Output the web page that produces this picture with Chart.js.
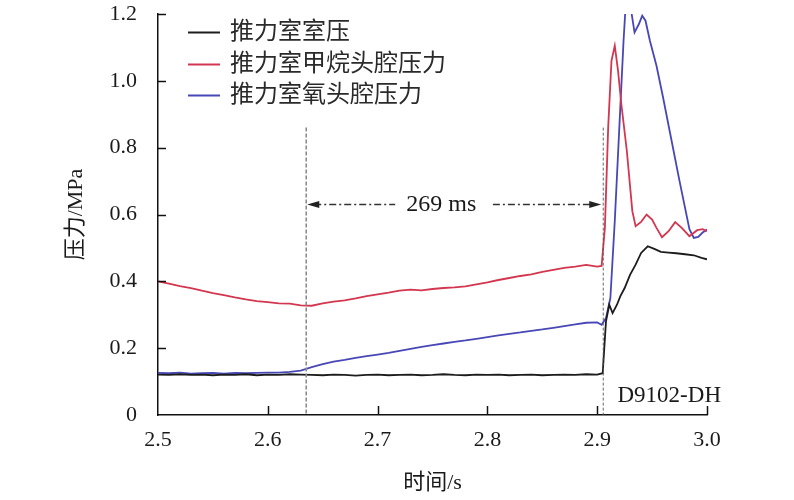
<!DOCTYPE html>
<html><head><meta charset="utf-8">
<script src="https://cdn.jsdelivr.net/npm/chart.js@4.4.1/dist/chart.umd.min.js"></script>
<style>html,body{margin:0;padding:0;background:#fff}</style>
</head><body>
<canvas id="c" width="794" height="500"></canvas>
<script>
const seriesNames = ['推力室室压', '推力室甲烷头腔压力', '推力室氧头腔压力'];
const seriesColors = ['#1c1c1c', '#d3364f', '#4747b6'];
const xTickValues = [2.5, 2.6, 2.7, 2.8, 2.9, 3.0];
const xTickLabels = ['2.5', '2.6', '2.7', '2.8', '2.9', '3.0'];
const yTickValues = [0, 0.2, 0.4, 0.6, 0.8, 1.0, 1.2];
const yTickLabels = ['0', '0.2', '0.4', '0.6', '0.8', '1.0', '1.2'];

const blackTime = [2.50,2.51,2.52,2.53,2.54,2.55,2.56,2.57,2.58,2.59,2.60,2.61,2.62,2.63,2.64,2.65,2.66,2.67,2.68,2.69,2.70,2.71,2.72,2.73,2.74,2.75,2.76,2.77,2.78,2.79,2.80,2.81,2.82,2.83,2.84,2.85,2.86,2.87,2.88,2.89,2.90,
  2.905,2.908,2.911,2.914,2.918,2.921,2.925,2.930,2.935,2.940,2.946,2.952,2.958,2.965,2.972,2.980,2.988,2.995,3.000];
const blackPressure = [0.121,0.120,0.122,0.120,0.121,0.119,0.121,0.120,0.122,0.119,0.121,0.120,0.122,0.121,0.120,0.119,0.121,0.120,0.118,0.120,0.121,0.119,0.120,0.121,0.119,0.120,0.122,0.120,0.119,0.121,0.120,0.121,0.119,0.120,0.121,0.119,0.120,0.121,0.120,0.122,0.121,
  0.125,0.280,0.330,0.305,0.330,0.355,0.380,0.420,0.450,0.485,0.505,0.497,0.488,0.486,0.484,0.481,0.478,0.470,0.466];

const redTime = [2.50,2.51,2.52,2.53,2.54,2.55,2.56,2.57,2.58,2.59,2.60,2.61,2.62,2.63,2.64,2.65,2.66,2.67,2.68,2.69,2.70,2.71,2.72,2.73,2.74,2.75,2.76,2.77,2.78,2.79,2.80,2.81,2.82,2.83,2.84,2.85,2.86,2.87,2.88,2.89,2.90,
  2.904,2.907,2.910,2.913,2.916,2.919,2.922,2.927,2.932,2.935,2.940,2.945,2.950,2.954,2.959,2.965,2.971,2.977,2.984,2.991,2.996,3.000];
const redPressure = [0.400,0.393,0.386,0.380,0.372,0.365,0.359,0.352,0.346,0.341,0.338,0.334,0.333,0.328,0.327,0.334,0.339,0.343,0.349,0.356,0.361,0.366,0.372,0.375,0.373,0.377,0.380,0.382,0.385,0.391,0.397,0.404,0.410,0.416,0.421,0.428,0.434,0.440,0.444,0.449,0.444,
  0.446,0.560,0.860,1.060,1.105,1.030,0.930,0.790,0.610,0.565,0.578,0.600,0.585,0.560,0.532,0.550,0.577,0.560,0.535,0.553,0.556,0.550];

const blueTime = [2.50,2.51,2.52,2.53,2.54,2.55,2.56,2.57,2.58,2.59,2.60,2.61,2.62,2.63,2.64,2.65,2.66,2.67,2.68,2.69,2.70,2.71,2.72,2.73,2.74,2.75,2.76,2.77,2.78,2.79,2.80,2.81,2.82,2.83,2.84,2.85,2.86,2.87,2.88,2.89,2.90,
  2.904,2.908,2.912,2.916,2.920,2.924,2.926,2.930,2.934,2.938,2.941,2.944,2.948,2.954,2.960,2.966,2.975,2.984,2.988,2.992,2.996,3.000];
const bluePressure = [0.126,0.125,0.127,0.124,0.125,0.126,0.124,0.126,0.125,0.126,0.127,0.127,0.129,0.133,0.143,0.152,0.160,0.165,0.171,0.176,0.181,0.186,0.192,0.198,0.204,0.209,0.214,0.219,0.223,0.228,0.233,0.238,0.243,0.247,0.252,0.256,0.261,0.266,0.271,0.276,0.277,
  0.270,0.290,0.350,0.580,0.850,1.120,1.230,1.230,1.145,1.170,1.195,1.180,1.120,1.045,0.950,0.850,0.700,0.556,0.530,0.533,0.546,0.555];

const markerTimes = [2.635, 2.9055];
const markerTop = 0.86;
const intervalLevel = 0.63;
const intervalLabel = '269 ms';
const intervalLabelTime = 2.758;
const intervalGap = [2.716, 2.805];
const testLabel = 'D9102-DH';
const testLabelPos = [2.9185, 0.04];

const serif = '"Liberation Serif", "Noto Sans CJK SC", serif';
Chart.defaults.font.family = serif;
Chart.defaults.color = '#1a1a1a';

function pts(t, v) { return t.map((x, i) => ({x: x, y: v[i]})); }

const overlay = {
  id: 'overlay',
  afterDatasetsDraw(chart) {
    const {ctx, chartArea: a, scales: {x, y}} = chart;
    ctx.save();
    ctx.strokeStyle = '#111'; ctx.lineWidth = 1.5; ctx.setLineDash([]);
    yTickValues.slice(1).forEach(v => {
      const py = Math.round(y.getPixelForValue(v)) + 0.5;
      ctx.beginPath(); ctx.moveTo(a.left, py); ctx.lineTo(a.left + 8, py); ctx.stroke();
    });
    xTickValues.slice(1).forEach(v => {
      const px = Math.round(x.getPixelForValue(v)) + 0.5;
      ctx.beginPath(); ctx.moveTo(px, a.bottom); ctx.lineTo(px, a.bottom - 9); ctx.stroke();
    });
    const topY = y.getPixelForValue(markerTop);
    const mx = markerTimes.map(t => x.getPixelForValue(t));
    ctx.strokeStyle = '#8c8c8c'; ctx.lineWidth = 1.6; ctx.setLineDash([4, 2]);
    ctx.beginPath(); ctx.moveTo(mx[0], topY); ctx.lineTo(mx[0], a.bottom); ctx.stroke();
    ctx.strokeStyle = '#555'; ctx.lineWidth = 0.9; ctx.setLineDash([3, 2]);
    ctx.beginPath(); ctx.moveTo(mx[1], topY); ctx.lineTo(mx[1], a.bottom); ctx.stroke();
    const ay = Math.round(y.getPixelForValue(intervalLevel)) + 0.5;
    const g0 = x.getPixelForValue(intervalGap[0]), g1 = x.getPixelForValue(intervalGap[1]);
    ctx.strokeStyle = '#333'; ctx.lineWidth = 1.3; ctx.setLineDash([7, 3, 2, 3]);
    ctx.beginPath(); ctx.moveTo(mx[0] + 8, ay); ctx.lineTo(g0, ay); ctx.stroke();
    ctx.beginPath(); ctx.moveTo(g1, ay); ctx.lineTo(mx[1] - 8, ay); ctx.stroke();
    ctx.setLineDash([]); ctx.fillStyle = '#222';
    ctx.beginPath(); ctx.moveTo(mx[0] + 1, ay); ctx.lineTo(mx[0] + 13, ay - 3.5); ctx.lineTo(mx[0] + 13, ay + 3.5); ctx.closePath(); ctx.fill();
    ctx.beginPath(); ctx.moveTo(mx[1] - 2, ay); ctx.lineTo(mx[1] - 14, ay - 3.5); ctx.lineTo(mx[1] - 14, ay + 3.5); ctx.closePath(); ctx.fill();
    ctx.fillStyle = '#1a1a1a';
    ctx.font = '24px ' + serif; ctx.textAlign = 'center'; ctx.textBaseline = 'middle';
    ctx.fillText(intervalLabel, x.getPixelForValue(intervalLabelTime), ay);
    ctx.font = '23px ' + serif; ctx.textAlign = 'left'; ctx.textBaseline = 'alphabetic';
    ctx.fillText(testLabel, x.getPixelForValue(testLabelPos[0]), y.getPixelForValue(testLabelPos[1]));
    const rows = [32, 64, 95];
    ctx.font = '24px ' + serif; ctx.textBaseline = 'middle';
    chart.data.datasets.forEach((ds, i) => {
      ctx.strokeStyle = ds.borderColor; ctx.lineWidth = 2;
      ctx.beginPath(); ctx.moveTo(188, rows[i] + 0.5); ctx.lineTo(220, rows[i] + 0.5); ctx.stroke();
      ctx.fillStyle = '#2a2a2a';
      ctx.fillText(ds.label, 230, rows[i] + 1);
    });
    ctx.restore();
  }
};

const datasets = [
  {label: seriesNames[0], data: pts(blackTime, blackPressure), borderColor: seriesColors[0]},
  {label: seriesNames[1], data: pts(redTime, redPressure), borderColor: seriesColors[1]},
  {label: seriesNames[2], data: pts(blueTime, bluePressure), borderColor: seriesColors[2]}
].map(d => Object.assign(d, {borderWidth: 1.8, pointRadius: 0, tension: 0, fill: false}));

new Chart(document.getElementById('c'), {
  type: 'line',
  data: {datasets: datasets},
  options: {
    responsive: false, animation: false, devicePixelRatio: 1,
    layout: {padding: {left: 0, right: 87, top: 14, bottom: 0}},
    plugins: {legend: {display: false}, tooltip: {enabled: false}},
    scales: {
      x: {
        type: 'linear', min: 2.5, max: 3.0,
        afterBuildTicks: s => { s.ticks = xTickValues.map(v => ({value: v})); },
        afterFit: s => { s.height = 85; s.paddingLeft = 0; s.paddingRight = 0; },
        ticks: {callback: (v, i) => xTickLabels[i], font: {size: 22}, padding: 12, color: '#1a1a1a', maxRotation: 0},
        grid: {display: true, drawOnChartArea: false, drawTicks: false},
        border: {display: true, color: '#111', width: 1.5},
        title: {display: true, text: '时间/s', font: {size: 22}, padding: {top: 0, bottom: 4}, color: '#1a1a1a'}
      },
      y: {
        type: 'linear', min: 0, max: 1.2,
        afterBuildTicks: s => { s.ticks = yTickValues.map(v => ({value: v})); },
        afterFit: s => { s.width = 158; s.paddingTop = 0; s.paddingBottom = 0; },
        ticks: {callback: (v, i) => yTickLabels[i], font: {size: 22}, padding: 21, color: '#1a1a1a'},
        grid: {display: true, drawOnChartArea: false, drawTicks: false},
        border: {display: true, color: '#111', width: 1.5},
        title: {display: true, text: '压力/MPa', font: {size: 22}, padding: {top: 63, bottom: 0}, color: '#1a1a1a'}
      }
    }
  },
  plugins: [overlay]
});
</script>
</body></html>
